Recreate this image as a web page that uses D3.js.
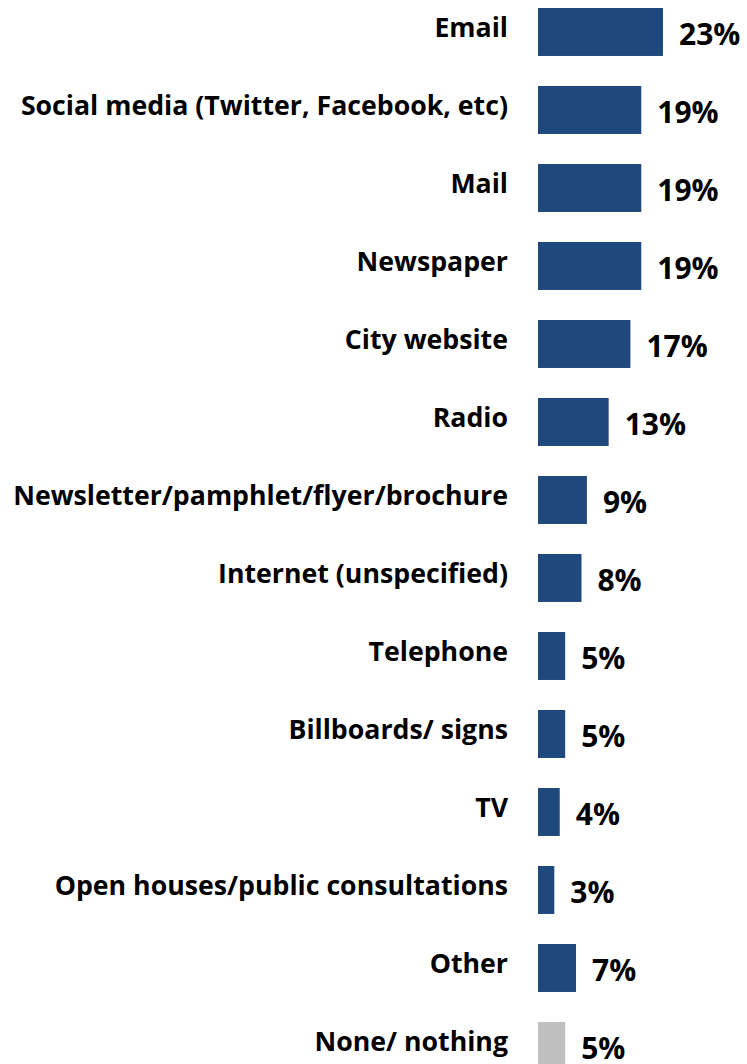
<!doctype html>
<html lang="en">
<head>
  <meta charset="utf-8">
  <script src="https://d3js.org/d3.v7.min.js"></script>
  <style>
    body { margin: 0; background: #fff; }
    text { font-family: "Open Sans", Lato, sans-serif; font-weight: 700; fill: #000; }
  </style>
</head>
<body>
<script>
  var categories = ["Email", "Social media (Twitter, Facebook, etc)", "Mail", "Newspaper",
    "City website", "Radio", "Newsletter/pamphlet/flyer/brochure", "Internet (unspecified)",
    "Telephone", "Billboards/ signs", "TV", "Open houses/public consultations", "Other", "None/ nothing"];
  var values = [23, 19, 19, 19, 17, 13, 9, 8, 5, 5, 4, 3, 7, 5];
  var valueLabels = ["23%", "19%", "19%", "19%", "17%", "13%", "9%", "8%", "5%", "5%", "4%", "3%", "7%", "5%"];

  var w = 747, h = 1064;
  var x0 = 538;

  var data = categories.map(function(c, i){
    return { cat: c, val: values[i], lab: valueLabels[i] };
  });

  var x = d3.scaleLinear().domain([0, 23]).range([0, 125]);
  var y = d3.scaleBand().domain(categories).range([8, 8 + 78 * 13.615]).paddingInner(0.385);

  var svg = d3.select("body").append("svg")
    .attr("width", w)
    .attr("height", h);

  var rows = svg.selectAll("g.row")
    .data(data)
    .enter().append("g")
      .attr("class", "row")
      .attr("transform", function(d){ return "translate(0," + y(d.cat) + ")"; });

  rows.append("rect")
    .attr("x", x0)
    .attr("y", 0)
    .attr("width", function(d){ return x(d.val); })
    .attr("height", y.bandwidth())
    .attr("fill", function(d){ return d.cat == "None/ nothing" ? "#bfbfbf" : "#1f497d"; });

  var labels = rows.append("text")
    .attr("x", 508)
    .attr("y", y.bandwidth() / 2 + 5)
    .attr("text-anchor", "end")
    .style("font-size", "25px")
    .text(function(d){ return d.cat; });

  // fit the longest label to the width it has in the original (~495px)
  var widest = d3.max(labels.nodes(), function(n){ return n.getComputedTextLength(); });
  labels.style("font-size", (25 * 495 / widest) + "px");

  rows.append("text")
    .attr("x", function(d){ return x0 + x(d.val) + 16; })
    .attr("y", y.bandwidth() / 2 + 13)
    .style("font-size", "30px")
    .text(function(d){ return d.lab; });
</script>
</body>
</html>
